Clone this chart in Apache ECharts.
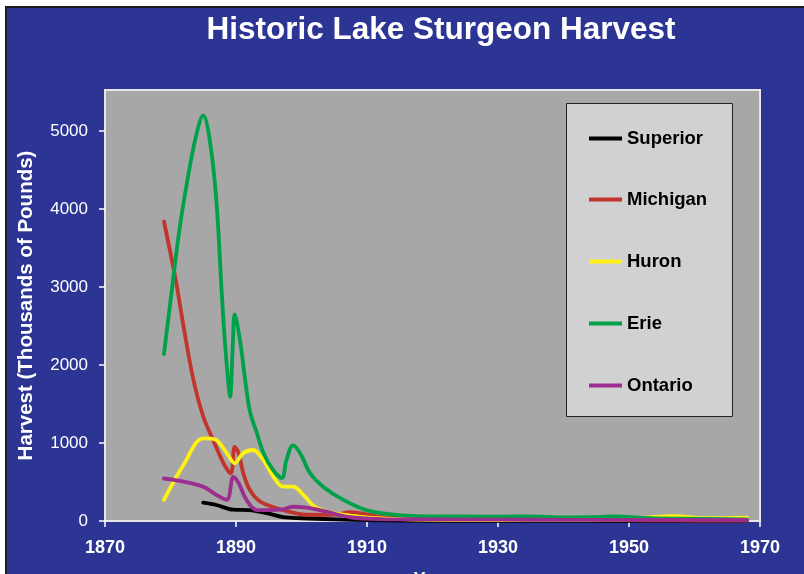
<!DOCTYPE html>
<html>
<head>
<meta charset="utf-8">
<title>Historic Lake Sturgeon Harvest</title>
<script src="https://cdn.jsdelivr.net/npm/echarts@6/dist/echarts.min.js"></script>
<style>
  html, body { margin: 0; padding: 0; background: #ffffff; }
  #chart { width: 804px; height: 574px; }
</style>
</head>
<body>
<div id="chart"></div>
<script>
// Harvest by lake, thousands of pounds, as [year, value] pairs
const lakeNames = ['Superior', 'Michigan', 'Huron', 'Erie', 'Ontario'];

const superior = [
  [1885, 235], [1887, 205], [1889.6, 145], [1892, 140], [1894.7, 100],
  [1897.2, 50], [1900, 35], [1905, 20], [1910, 10], [1915, 5], [1920, 3],
  [1928, 2], [1935, 2], [1940, 3], [1945, 2], [1952, 2], [1960, 2], [1968, 2]
];

const michigan = [
  [1879, 3840], [1880.8, 3090], [1882, 2490], [1883.5, 1810], [1885, 1340],
  [1886.5, 1040], [1888.1, 740], [1889.2, 610], [1889.8, 950], [1890.4, 870],
  [1891.1, 615], [1892.1, 400], [1893.7, 250], [1897.2, 140], [1900.8, 80],
  [1904.9, 78], [1907.4, 112], [1912.5, 50], [1918, 30], [1925, 25],
  [1930, 20], [1935, 15], [1940, 12], [1945, 15], [1950, 10], [1955, 8],
  [1960, 6], [1968, 5]
];

const huron = [
  [1879, 270], [1882, 720], [1885, 1060], [1886.8, 1045], [1888.6, 870],
  [1889.8, 740], [1891.1, 870], [1892.6, 910], [1894.2, 780], [1895.7, 570],
  [1897.2, 440], [1898.7, 440], [1900.3, 335], [1902, 185], [1904.9, 100],
  [1909.9, 47], [1915, 25], [1920, 15], [1930, 12], [1940, 10], [1945, 15],
  [1950, 25], [1956.5, 62], [1962, 35], [1968, 42]
];

const erie = [
  [1879, 2140], [1880.2, 2960], [1881.3, 3700], [1882.5, 4330], [1883.8, 4900],
  [1885, 5200], [1886, 4880], [1887, 4110], [1887.8, 2960], [1888.3, 2300],
  [1888.8, 1800], [1889.1, 1590], [1889.5, 2240], [1889.8, 2650], [1890.6, 2320],
  [1891.6, 1680], [1892.2, 1380], [1893.2, 1125], [1894.2, 870], [1895.7, 650],
  [1897, 550], [1897.7, 780], [1898.7, 970], [1899.8, 870], [1901.3, 615],
  [1903.3, 440], [1906.4, 270], [1909.9, 140], [1914.5, 78], [1920, 60],
  [1925, 58], [1930, 55], [1935, 60], [1940, 45], [1944, 48], [1948, 58],
  [1952, 40], [1958, 30], [1968, 22]
];

const ontario = [
  [1879, 545], [1882, 505], [1885, 440], [1887, 335], [1888.6, 270],
  [1889.6, 565], [1890.4, 485], [1891.6, 270], [1893.2, 140], [1895.3, 140],
  [1897.2, 150], [1898.7, 183], [1900.8, 170], [1903.8, 120], [1907.4, 48],
  [1912, 25], [1920, 20], [1930, 18], [1940, 15], [1950, 15], [1960, 14],
  [1968, 13]
];

const seriesData = [superior, michigan, huron, erie, ontario];
const seriesColors = ['#000000', '#C1352D', '#FFF212', '#00A14B', '#9B2E8F'];

const yearTicks = [1870, 1890, 1910, 1930, 1950, 1970];
const harvestTicks = [0, 1000, 2000, 3000, 4000, 5000];

const FONT = '"Liberation Sans", Arial, Helvetica, sans-serif';
const BLUE = '#2C3594';

const chart = echarts.init(document.getElementById('chart'), null, { renderer: 'canvas' });

// one legend block per lake, stacked inside the framed key box
const legendTops = [129, 190, 252, 314, 376];
const legends = lakeNames.map((name, i) => ({
  data: [name],
  left: 589,
  top: legendTops[i],
  padding: 0,
  z: 20,
  itemWidth: 33,
  itemHeight: 4,
  itemGap: 5,
  icon: 'rect',
  selectedMode: false,
  textStyle: { fontFamily: FONT, fontSize: 18.5, fontWeight: 'bold', color: '#000000' }
}));

const series = lakeNames.map((name, i) => ({
  name: name,
  type: 'line',
  data: seriesData[i],
  smooth: 0.35,
  showSymbol: false,
  symbol: 'none',
  lineStyle: { color: seriesColors[i], width: 3.8, cap: 'round', join: 'round' },
  itemStyle: { color: seriesColors[i] },
  emphasis: { disabled: true },
  z: 3,
  animation: false
}));

chart.setOption({
  backgroundColor: BLUE,
  animation: false,
  title: {
    text: 'Historic Lake Sturgeon Harvest',
    left: 436,
    top: 9,
    textAlign: 'center',
    textStyle: { fontFamily: FONT, fontSize: 31.5, fontWeight: 'bold', color: '#ffffff' }
  },
  graphic: [
    // white margin and dark rule along the top and left edges
    { type: 'rect', shape: { x: 0, y: 0, width: 804, height: 6 }, style: { fill: '#ffffff' }, z: 100, silent: true },
    { type: 'rect', shape: { x: 0, y: 0, width: 5, height: 574 }, style: { fill: '#ffffff' }, z: 100, silent: true },
    { type: 'rect', shape: { x: 5, y: 6, width: 799, height: 2 }, style: { fill: '#1c1c1c' }, z: 100, silent: true },
    { type: 'rect', shape: { x: 5, y: 6, width: 2, height: 568 }, style: { fill: '#1c1c1c' }, z: 100, silent: true },
    // key frame
    { type: 'rect', shape: { x: 566.5, y: 103.5, width: 166, height: 313 },
      style: { fill: '#D1D1D1', stroke: '#222222', lineWidth: 1 }, z: 2, silent: true }
  ],
  legend: legends,
  grid: {
    left: 105, right: 44, top: 90, bottom: 53,
    outerBoundsMode: 'none',
    show: true,
    backgroundColor: '#A6A7A6',
    borderColor: '#E6E6E6',
    borderWidth: 2,
    containLabel: false
  },
  xAxis: {
    type: 'value',
    min: 1870, max: 1970, interval: 20,
    name: 'Year',
    nameLocation: 'middle',
    nameGap: 50,
    nameTextStyle: { fontFamily: FONT, fontSize: 18, fontWeight: 'bold', color: '#ffffff' },
    splitLine: { show: false },
    axisLine: { show: true, onZero: false, lineStyle: { color: '#E6E6E6', width: 2 } },
    axisTick: { show: true, length: 6, lineStyle: { color: '#ffffff', width: 1.5 }, customValues: yearTicks },
    axisLabel: {
      customValues: yearTicks,
      margin: 18,
      fontFamily: FONT, fontSize: 18, fontWeight: 'bold', color: '#ffffff',
      formatter: v => String(v)
    }
  },
  yAxis: {
    type: 'value',
    min: 0, max: 5526, interval: 1000,
    name: 'Harvest (Thousands of Pounds)',
    nameLocation: 'middle',
    nameRotate: 90,
    nameGap: 68,
    nameTextStyle: { fontFamily: FONT, fontSize: 20.5, fontWeight: 'bold', color: '#ffffff' },
    splitLine: { show: false },
    axisLine: { show: false },
    axisTick: { show: true, length: 6, lineStyle: { color: '#ffffff', width: 1.5 }, customValues: harvestTicks },
    axisLabel: {
      customValues: harvestTicks,
      margin: 17,
      fontFamily: FONT, fontSize: 17, color: '#ffffff',
      formatter: v => String(v)
    }
  },
  series: series
});
</script>
</body>
</html>
